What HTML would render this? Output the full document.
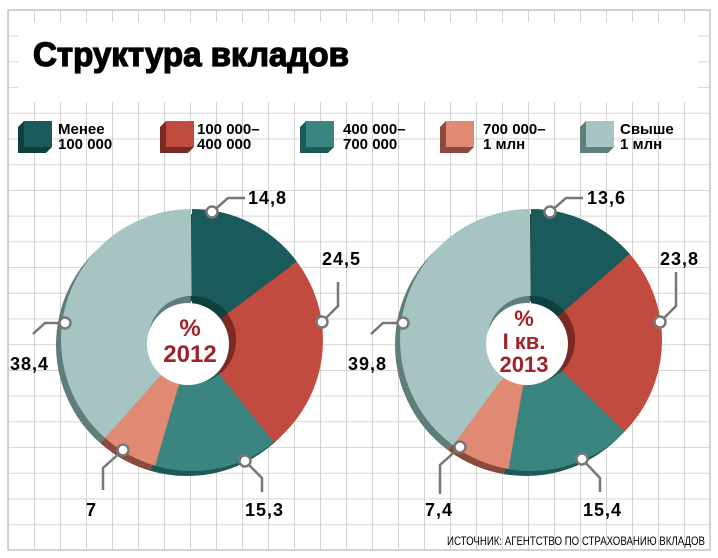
<!DOCTYPE html>
<html><head><meta charset="utf-8"><style>
html,body{margin:0;padding:0;background:#fff;}
svg{display:block;}
text{font-family:"Liberation Sans","DejaVu Sans",sans-serif;}
</style></head><body>
<svg width="718" height="558" viewBox="0 0 718 558" xmlns="http://www.w3.org/2000/svg">
<defs>
<pattern id="grid" x="8" y="10" width="26" height="25.714" patternUnits="userSpaceOnUse">
<path d="M0 0H26M0 0V25.714" stroke="#c8c8c8" stroke-width="1.6" fill="none"/>
</pattern>
</defs>
<rect x="8" y="10" width="702" height="540" fill="url(#grid)"/>
<rect x="8" y="10" width="702" height="540" fill="none" stroke="#c8c8c8" stroke-width="1.6"/>
<rect x="18" y="22" width="680" height="80" fill="#fff"/>
<text x="33" y="66" font-size="34" font-weight="bold" stroke="#000" stroke-width="1.3" textLength="316" lengthAdjust="spacingAndGlyphs">Структура вкладов</text>

<!-- legend -->
<g font-size="15" font-weight="bold">
<g><polygon points="18,127 24,121 52,121 52,147 46,153 18,153" fill="#0f3f3f"/><rect x="24" y="121" width="28" height="26" fill="#1b5a5a"/>
<text x="58" y="134">Менее</text><text x="58" y="149">100 000</text></g>
<g><polygon points="160,127 166,121 194,121 194,147 188,153 160,153" fill="#7a2a22"/><rect x="166" y="121" width="28" height="26" fill="#c04b3e"/>
<text x="197" y="134">100 000–</text><text x="197" y="149">400 000</text></g>
<g><polygon points="300,127 306,121 334,121 334,147 328,153 300,153" fill="#1e5a55"/><rect x="306" y="121" width="28" height="26" fill="#3a8580"/>
<text x="343" y="134">400 000–</text><text x="343" y="149">700 000</text></g>
<g><polygon points="440,127 446,121 474,121 474,147 468,153 440,153" fill="#8a4a3e"/><rect x="446" y="121" width="28" height="26" fill="#e08a74"/>
<text x="483" y="134">700 000–</text><text x="483" y="149">1 млн</text></g>
<g><polygon points="580,127 586,121 614,121 614,147 608,153 580,153" fill="#5f7d7a"/><rect x="586" y="121" width="28" height="26" fill="#a5c4c2"/>
<text x="620" y="134">Свыше</text><text x="620" y="149">1 млн</text></g>
</g>

<!-- donut 1 -->
<g transform="rotate(-90 187 345)" fill="none" stroke-width="87">
<circle cx="187" cy="345" r="87.5" pathLength="100" stroke="#0f3f3f" stroke-dasharray="14.8 100" stroke-dashoffset="0"/>
<circle cx="187" cy="345" r="87.5" pathLength="100" stroke="#7a2a22" stroke-dasharray="24.5 100" stroke-dashoffset="-14.8"/>
<circle cx="187" cy="345" r="87.5" pathLength="100" stroke="#1e5a55" stroke-dasharray="15.3 100" stroke-dashoffset="-39.3"/>
<circle cx="187" cy="345" r="87.5" pathLength="100" stroke="#8a4a3e" stroke-dasharray="7 100" stroke-dashoffset="-54.6"/>
<circle cx="187" cy="345" r="87.5" pathLength="100" stroke="#5f7d7a" stroke-dasharray="38.4 100" stroke-dashoffset="-61.6"/>
</g>
<g transform="rotate(-90 192 340)" fill="none">
<g stroke-width="87">
<circle cx="192" cy="340" r="87.5" pathLength="100" stroke="#1b5a5a" stroke-dasharray="14.8 100" stroke-dashoffset="0"/>
<circle cx="192" cy="340" r="87.5" pathLength="100" stroke="#c04b3e" stroke-dasharray="24.5 100" stroke-dashoffset="-14.8"/>
<circle cx="192" cy="340" r="87.5" pathLength="100" stroke="#3a8580" stroke-dasharray="15.3 100" stroke-dashoffset="-39.3"/>
<circle cx="192" cy="340" r="87.5" pathLength="100" stroke="#e08a74" stroke-dasharray="7 100" stroke-dashoffset="-54.6"/>
<circle cx="192" cy="340" r="87.5" pathLength="100" stroke="#a5c4c2" stroke-dasharray="38.4 100" stroke-dashoffset="-61.6"/>
</g>
<g stroke-width="44">
<circle cx="192" cy="340" r="22" pathLength="100" stroke="#0f3f3f" stroke-dasharray="14.8 100" stroke-dashoffset="0"/>
<circle cx="192" cy="340" r="22" pathLength="100" stroke="#7a2a22" stroke-dasharray="24.5 100" stroke-dashoffset="-14.8"/>
<circle cx="192" cy="340" r="22" pathLength="100" stroke="#1e5a55" stroke-dasharray="15.3 100" stroke-dashoffset="-39.3"/>
<circle cx="192" cy="340" r="22" pathLength="100" stroke="#8a4a3e" stroke-dasharray="7 100" stroke-dashoffset="-54.6"/>
<circle cx="192" cy="340" r="22" pathLength="100" stroke="#5f7d7a" stroke-dasharray="38.4 100" stroke-dashoffset="-61.6"/>
</g>
</g>
<circle cx="188" cy="344" r="41" fill="#fff"/>
<g fill="#a0232b" font-weight="bold" font-size="24" text-anchor="middle">
<text x="190" y="336">%</text><text x="190" y="362">2012</text>
</g>

<!-- donut 2 -->
<g transform="rotate(-90 526 345)" fill="none" stroke-width="87">
<circle cx="526" cy="345" r="87.5" pathLength="100" stroke="#0f3f3f" stroke-dasharray="13.6 100" stroke-dashoffset="0"/>
<circle cx="526" cy="345" r="87.5" pathLength="100" stroke="#7a2a22" stroke-dasharray="23.8 100" stroke-dashoffset="-13.6"/>
<circle cx="526" cy="345" r="87.5" pathLength="100" stroke="#1e5a55" stroke-dasharray="15.4 100" stroke-dashoffset="-37.4"/>
<circle cx="526" cy="345" r="87.5" pathLength="100" stroke="#8a4a3e" stroke-dasharray="7.4 100" stroke-dashoffset="-52.8"/>
<circle cx="526" cy="345" r="87.5" pathLength="100" stroke="#5f7d7a" stroke-dasharray="39.8 100" stroke-dashoffset="-60.2"/>
</g>
<g transform="rotate(-90 531 340)" fill="none">
<g stroke-width="87">
<circle cx="531" cy="340" r="87.5" pathLength="100" stroke="#1b5a5a" stroke-dasharray="13.6 100" stroke-dashoffset="0"/>
<circle cx="531" cy="340" r="87.5" pathLength="100" stroke="#c04b3e" stroke-dasharray="23.8 100" stroke-dashoffset="-13.6"/>
<circle cx="531" cy="340" r="87.5" pathLength="100" stroke="#3a8580" stroke-dasharray="15.4 100" stroke-dashoffset="-37.4"/>
<circle cx="531" cy="340" r="87.5" pathLength="100" stroke="#e08a74" stroke-dasharray="7.4 100" stroke-dashoffset="-52.8"/>
<circle cx="531" cy="340" r="87.5" pathLength="100" stroke="#a5c4c2" stroke-dasharray="39.8 100" stroke-dashoffset="-60.2"/>
</g>
<g stroke-width="44">
<circle cx="531" cy="340" r="22" pathLength="100" stroke="#0f3f3f" stroke-dasharray="13.6 100" stroke-dashoffset="0"/>
<circle cx="531" cy="340" r="22" pathLength="100" stroke="#7a2a22" stroke-dasharray="23.8 100" stroke-dashoffset="-13.6"/>
<circle cx="531" cy="340" r="22" pathLength="100" stroke="#1e5a55" stroke-dasharray="15.4 100" stroke-dashoffset="-37.4"/>
<circle cx="531" cy="340" r="22" pathLength="100" stroke="#8a4a3e" stroke-dasharray="7.4 100" stroke-dashoffset="-52.8"/>
<circle cx="531" cy="340" r="22" pathLength="100" stroke="#5f7d7a" stroke-dasharray="39.8 100" stroke-dashoffset="-60.2"/>
</g>
</g>
<circle cx="527" cy="344" r="41" fill="#fff"/>
<g fill="#a0232b" font-weight="bold" font-size="22" text-anchor="middle">
<text x="524" y="326">%</text><text x="524" y="349">I кв.</text><text x="524" y="372">2013</text>
</g>

<!-- callouts -->
<g fill="none" stroke="#777" stroke-width="2.5">
<polyline points="212,212 228,198 245,198"/>
<polyline points="322,322 338,306 338,282"/>
<polyline points="65,323 45,323 33,334"/>
<polyline points="123,450 103,468 103,490"/>
<polyline points="245,461 262,478 262,492"/>
<polyline points="550,212 566,198 583,198"/>
<polyline points="660,322 676,306 676,272"/>
<polyline points="403,323 383,323 371,334"/>
<polyline points="460,447 440,465 440,494"/>
<polyline points="582,459 600,478 600,492"/>
</g>
<g fill="#fff" stroke="#777" stroke-width="2.5">
<circle cx="212" cy="212" r="5.5"/><circle cx="322" cy="322" r="5.5"/><circle cx="65" cy="323" r="5.5"/>
<circle cx="123" cy="450" r="5.5"/><circle cx="245" cy="461" r="5.5"/>
<circle cx="550" cy="212" r="5.5"/><circle cx="660" cy="322" r="5.5"/><circle cx="403" cy="323" r="5.5"/>
<circle cx="460" cy="447" r="5.5"/><circle cx="582" cy="459" r="5.5"/>
</g>
<g font-size="18" font-weight="bold" fill="#000" letter-spacing="1">
<text x="248" y="204">14,8</text>
<text x="322" y="265">24,5</text>
<text x="10" y="370">38,4</text>
<text x="86" y="516">7</text>
<text x="245" y="516">15,3</text>
<text x="587" y="204">13,6</text>
<text x="660" y="265">23,8</text>
<text x="348" y="370">39,8</text>
<text x="425" y="516">7,4</text>
<text x="583" y="516">15,4</text>
</g>
<text x="447" y="545" font-size="12" textLength="258" lengthAdjust="spacingAndGlyphs" fill="#000">ИСТОЧНИК: АГЕНТСТВО ПО СТРАХОВАНИЮ ВКЛАДОВ</text>
</svg>
</body></html>
